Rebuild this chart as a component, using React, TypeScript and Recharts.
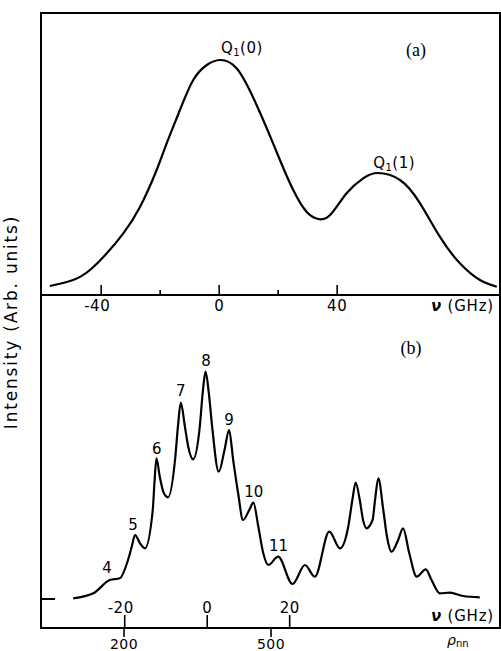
import React from 'react';
import { LineChart, Line, XAxis, YAxis, ReferenceDot } from 'recharts';

// Panel (a): frequency offset (GHz) and intensity (arb.)
const ghzA = [-57.4, -49.5, -43.8, -38.1, -32.5, -26.8, -21.2, -17.8, -13.3, -8.8, -4.2, 0.3, 5.9, 11.6, 16.1, 20.6, 25.1, 29.7, 33.6, 37.6, 43.2, 48.8, 53.8, 61.3, 68.1, 74.8, 81.6, 88.4, 94.1];
const intA = [9, 15, 25, 41.7, 61.7, 88.3, 125, 151.7, 185, 215, 230, 235, 226.7, 197, 167, 135, 105, 83, 76, 80, 101.7, 116.7, 122, 115, 91.7, 58.3, 31.7, 15, 8.3];

// Panel (b)
const ghzB = [-32.5, -27.6, -23.6, -21.2, -19.2, -18.3, -17.5, -16.3, -15.1, -13.2, -12.8, -12.3, -11.5, -10.5, -9.5, -7.8, -7.1, -6.4, -5.4, -4.6, -3.4, -1.8, -1.1, -0.4, 0.4, 1.2, 2.8, 4.2, 5.3, 6.3, 7.5, 8.7, 10.2, 11.2, 12.4, 13.6, 14.8, 17.2, 20.7, 23.7, 26.1, 29.6, 32.2, 34.2, 35.2, 36.0, 37.0, 37.8, 38.6, 40.1, 40.7, 41.5, 42.7, 43.6, 44.7, 46.3, 47.5, 49.0, 50.8, 53.0, 54.4, 56.4, 58.8, 62.1, 66.1];
const intB = [0.7, 5.7, 19, 20.7, 39, 52.3, 64, 55.7, 50.7, 89, 115.7, 140.7, 122.3, 105.7, 101.7, 139, 172.3, 196.3, 172.3, 152.3, 139.7, 172.3, 205.7, 227.3, 205.7, 172.3, 127.3, 149, 169, 139, 105.7, 79, 89, 96.3, 72.3, 45.7, 34, 42.3, 15, 34, 22.3, 67.3, 50.7, 72.3, 99, 116.3, 99, 79, 70.7, 79, 99, 120.7, 89, 62.3, 47.3, 59, 70.7, 45.7, 22.3, 29.7, 19, 5.7, 6.3, 3, 1.7];

const ticksA = [-40, -20, 0, 20, 40];
const labeledTicksA = [-40, 0, 40];
const ticksB = [-20, 0, 20];
const ticksRho = [200, 500];

const peakNames = ['4', '5', '6', '7', '8', '9', '10', '11'];
const peakLabelX = [-24.3, -18.0, -12.2, -6.4, -0.3, 5.3, 11.3, 17.3];
const peakLabelY = [31, 74, 150, 208, 238, 179, 107, 53];

const dataA = ghzA.map((x, i) => ({ x, y: intA[i] }));
const dataB = ghzB.map((x, i) => ({ x, y: intB[i] }));
// invisible anchor so the rho_nn axis gets its scale
const rhoAnchor = ticksRho.map((x) => ({ x, y: 0 }));

const FONT = '"DejaVu Sans", sans-serif';
const frame = { stroke: '#000', strokeWidth: 2 };

const TickA = (props: any) => {
  const { x, y, payload } = props;
  const v = payload.value;
  const major = labeledTicksA.includes(v);
  return (
    <g>
      <line x1={x} y1={y} x2={x} y2={y - (major ? 10 : 5)} stroke="#000" strokeWidth={1.6} />
      {major && (
        <text x={x + (v < 0 ? -4 : 0)} y={y + 16} textAnchor="middle" fontSize={15} fontFamily={FONT} letterSpacing={0.5} fill="#000">
          {String(v)}
        </text>
      )}
    </g>
  );
};

const TickB = (props: any) => {
  const { x, y, payload } = props;
  const v = payload.value;
  return (
    <g>
      <line x1={x} y1={y} x2={x} y2={y - 13} stroke="#000" strokeWidth={1.6} />
      <text x={x + (v < 0 ? -4 : 0)} y={y - 15} textAnchor="middle" fontSize={15} fontFamily={FONT} letterSpacing={0.5} fill="#000">
        {String(v)}
      </text>
    </g>
  );
};

const TickRho = (props: any) => {
  const { x, y, payload } = props;
  return (
    <g>
      <line x1={x} y1={y} x2={x} y2={y + 8} stroke="#000" strokeWidth={1.6} />
      <text x={x} y={y + 20} textAnchor="middle" fontSize={14} fontFamily={FONT} letterSpacing={0.5} fill="#000">
        {String(payload.value)}
      </text>
    </g>
  );
};

const BaselineTick = (props: any) => {
  const { x, y } = props;
  return <line x1={x} y1={y} x2={x + 14} y2={y} stroke="#000" strokeWidth={2} />;
};

const nuLabel = (dy: number) => (p: any) => {
  const vb = p && p.viewBox;
  if (!vb) return null;
  return (
    <text x={vb.x + vb.width - 6} y={vb.y + dy} textAnchor="end" fontSize={15} fontFamily={FONT} letterSpacing={0.8} fill="#000">
      <tspan fontStyle="italic" fontWeight="bold">ν</tspan>
      <tspan> (GHz)</tspan>
    </text>
  );
};

const rhoLabel = (p: any) => {
  const vb = p && p.viewBox;
  if (!vb) return null;
  return (
    <text x={vb.x + 406} y={vb.y + 16} fontSize={14} fontFamily={FONT} fill="#000">
      <tspan fontStyle="italic">ρ</tspan>
      <tspan fontSize={10} dy={2}>nn</tspan>
    </text>
  );
};

const yTitle = (p: any) => {
  const vb = p && p.viewBox;
  if (!vb) return null;
  const cx = vb.x + vb.width - 24;
  const cy = vb.y + 27;
  return (
    <text x={cx} y={cy} transform={`rotate(-90 ${cx} ${cy})`} textAnchor="middle" fontSize={17} fontFamily={FONT} letterSpacing={1.8} fill="#000">
      Intensity (Arb. units)
    </text>
  );
};

const qLabel = (sub: string, rest: string) => (p: any) => (
  <text x={p.cx} y={p.cy} textAnchor="middle" dominantBaseline="central" fontSize={15} fontFamily={FONT} letterSpacing={0.5} fill="#000">
    <tspan>Q</tspan>
    <tspan fontSize={10} dy={4}>{sub}</tspan>
    <tspan dy={-4}>{rest}</tspan>
  </text>
);

const plainLabel = (txt: string, serif = false) => (p: any) => (
  <text
    x={p.cx}
    y={p.cy}
    textAnchor="middle"
    dominantBaseline="central"
    fontSize={serif ? 18 : 15}
    fontFamily={serif ? '"Liberation Serif", "Times New Roman", serif' : FONT}
    fill="#000"
  >
    {txt}
  </text>
);

export default function App() {
  return (
    <div style={{ position: 'absolute', left: 0, top: 0, width: 501, height: 651, background: '#fff', overflow: 'hidden' }}>
      <div style={{ position: 'absolute', left: 0, top: 0 }}>
        <LineChart width={501} height={320} data={dataA} margin={{ top: 13, right: 1, bottom: 0, left: 40 }}>
          <XAxis
            dataKey="x"
            type="number"
            domain={[-60.4, 95.2]}
            allowDataOverflow
            ticks={ticksA}
            interval={0}
            height={25}
            tickSize={0}
            tickMargin={0}
            tickLine={false}
            axisLine={frame}
            tick={<TickA />}
            label={nuLabel(16)}
          />
          <YAxis type="number" domain={[0, 282]} allowDataOverflow width={1} tick={false} tickLine={false} axisLine={false} />
          <Line dataKey="y" type="natural" stroke="#000" strokeWidth={2.2} dot={false} isAnimationActive={false} />
          <ReferenceDot x={7.7} y={247} r={1} shape={qLabel('1', '(0)')} />
          <ReferenceDot x={59.3} y={132} r={1} shape={qLabel('1', '(1)')} />
          <ReferenceDot x={66.7} y={245} r={1} shape={plainLabel('(a)', true)} />
        </LineChart>
      </div>
      <div style={{ position: 'absolute', left: 0, top: 0 }}>
        <LineChart width={501} height={651} data={dataB} margin={{ top: 295, right: 1, bottom: 0, left: 40 }}>
          <XAxis
            dataKey="x"
            type="number"
            domain={[-40.3, 71.0]}
            allowDataOverflow
            ticks={ticksB}
            interval={0}
            height={1}
            tickSize={0}
            tickMargin={0}
            tickLine={false}
            axisLine={frame}
            tick={<TickB />}
            label={nuLabel(-7)}
          />
          <XAxis
            xAxisId="rho"
            dataKey="x"
            type="number"
            domain={[30.6, 967.3]}
            allowDataOverflow
            ticks={ticksRho}
            interval={0}
            height={22}
            tickSize={0}
            tickMargin={0}
            tickLine={false}
            axisLine={false}
            tick={<TickRho />}
            label={rhoLabel}
          />
          <YAxis
            type="number"
            domain={[-29, 304]}
            allowDataOverflow
            ticks={[0]}
            interval={0}
            width={1}
            tickSize={0}
            tickMargin={0}
            tickLine={false}
            axisLine={false}
            tick={<BaselineTick />}
            label={yTitle}
          />
          <Line dataKey="y" type="monotone" stroke="#000" strokeWidth={2.2} dot={false} isAnimationActive={false} />
          <Line xAxisId="rho" data={rhoAnchor} dataKey="y" stroke="none" dot={false} activeDot={false} legendType="none" isAnimationActive={false} />
          {peakNames.map((n, i) => (
            <ReferenceDot key={n} x={peakLabelX[i]} y={peakLabelY[i]} r={1} shape={plainLabel(n)} />
          ))}
          <ReferenceDot x={49.4} y={251} r={1} shape={plainLabel('(b)', true)} />
        </LineChart>
      </div>
      <div
        style={{
          position: 'absolute',
          left: 40,
          top: 12,
          width: 461,
          height: 617,
          border: '2px solid #000',
          boxSizing: 'border-box',
          pointerEvents: 'none',
        }}
      />
    </div>
  );
}
